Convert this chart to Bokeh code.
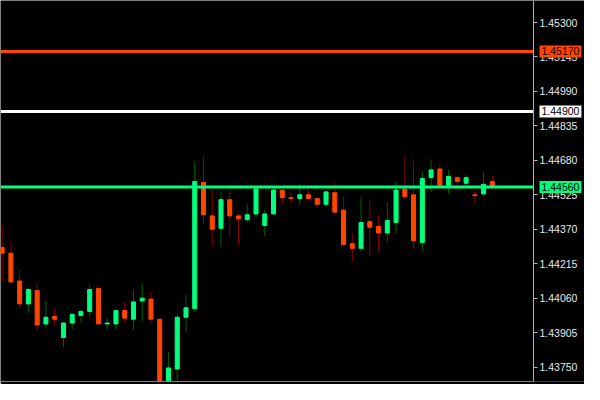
from bokeh.plotting import figure
from bokeh.models import (Range1d, FixedTicker, PrintfTickFormatter, Label,
                          ColumnDataSource, LinearAxis)
from bokeh.embed import file_html
from bokeh.resources import INLINE

# OHLC bars (left to right)
opens = [1.44288, 1.44262, 1.44137, 1.44034, 1.44094, 1.43944, 1.43978, 1.43883, 1.43948, 1.43982,
         1.44000, 1.44103, 1.43944, 1.43944, 1.44004, 1.43965, 1.44047, 1.44056, 1.43965, 1.43655,
         1.43741, 1.43974, 1.44013, 1.44581, 1.44430, 1.44374, 1.44503, 1.44430, 1.44413, 1.44439,
         1.44387, 1.44439, 1.44546, 1.44512, 1.44508, 1.44525, 1.44508, 1.44482, 1.44534, 1.44456,
         1.44305, 1.44284, 1.44404, 1.44383, 1.44353, 1.44400, 1.44551, 1.44525, 1.44310, 1.44602,
         1.44641, 1.44568, 1.44602, 1.44577, 1.44525, 1.44529, 1.44585]
highs = [1.44387, 1.44310, 1.44189, 1.44107, 1.44129, 1.44047, 1.44017, 1.43952, 1.43991, 1.44008,
         1.44120, 1.44112, 1.43970, 1.44008, 1.44043, 1.44094, 1.44125, 1.44086, 1.43965, 1.43819,
         1.43991, 1.44077, 1.44676, 1.44697, 1.44546, 1.44542, 1.44546, 1.44439, 1.44482, 1.44555,
         1.44460, 1.44559, 1.44551, 1.44546, 1.44572, 1.44568, 1.44512, 1.44546, 1.44581, 1.44516,
         1.44353, 1.44516, 1.44503, 1.44435, 1.44491, 1.44585, 1.44697, 1.44676, 1.44628, 1.44684,
         1.44658, 1.44637, 1.44611, 1.44615, 1.44546, 1.44628, 1.44611]
lows = [1.44137, 1.44125, 1.44013, 1.43995, 1.43914, 1.43922, 1.43935, 1.43840, 1.43922, 1.43948,
        1.43978, 1.43944, 1.43918, 1.43918, 1.43948, 1.43918, 1.43957, 1.43944, 1.43630, 1.43630,
        1.43685, 1.43909, 1.44000, 1.44396, 1.44292, 1.44292, 1.44336, 1.44301, 1.44400, 1.44422,
        1.44340, 1.44435, 1.44482, 1.44482, 1.44482, 1.44508, 1.44465, 1.44473, 1.44443, 1.44301,
        1.44224, 1.44271, 1.44249, 1.44267, 1.44310, 1.44353, 1.44508, 1.44284, 1.44271, 1.44538,
        1.44564, 1.44529, 1.44568, 1.44564, 1.44486, 1.44525, 1.44551]
closes = [1.44262, 1.44133, 1.44034, 1.44099, 1.43939, 1.43974, 1.43965, 1.43948, 1.43987, 1.44000,
          1.44099, 1.43944, 1.43948, 1.44004, 1.43970, 1.44043, 1.44060, 1.43965, 1.43655, 1.43746,
          1.43974, 1.44017, 1.44585, 1.44435, 1.44370, 1.44503, 1.44430, 1.44417, 1.44435, 1.44551,
          1.44439, 1.44546, 1.44512, 1.44508, 1.44525, 1.44508, 1.44482, 1.44538, 1.44447, 1.44301,
          1.44284, 1.44400, 1.44379, 1.44353, 1.44409, 1.44546, 1.44516, 1.44318, 1.44598, 1.44637,
          1.44568, 1.44607, 1.44585, 1.44602, 1.44521, 1.44572, 1.44564]

# horizontal price levels
levels = [1.45170, 1.44900, 1.44560]
level_colors = ["#ff4500", "#ffffff", "#00ff7f"]

# price scale ticks
tick_values = [1.45300, 1.45145, 1.44990, 1.44835, 1.44680, 1.44525,
               1.44370, 1.44215, 1.44060, 1.43905, 1.43750]

BULL_BODY, BULL_WICK = "#00ff7f", "#006400"
BEAR_BODY, BEAR_WICK = "#ff4500", "#8b0000"
FONT = "Liberation Sans"
FONT_SIZE = "10.5px"

CANVAS_W = 584
X_START = -0.19          # left edge of chart (bar index units)
AXIS_X = 60.7            # where the price scale sits
PX_PER_UNIT = 533 / (AXIS_X - X_START)
X_END = X_START + CANVAS_W / PX_PER_UNIT
TAG_X = X_START + 539 / PX_PER_UNIT


def make_source(is_up):
    d = dict(x=[], o=[], h=[], l=[], c=[], top=[], bottom=[])
    for i, (o, h, l, c) in enumerate(zip(opens, highs, lows, closes)):
        if (c >= o) == is_up:
            d["x"].append(i); d["o"].append(o); d["h"].append(h)
            d["l"].append(l); d["c"].append(c)
            d["top"].append(max(o, c)); d["bottom"].append(min(o, c))
    return ColumnDataSource(d)


bull = make_source(True)
bear = make_source(False)

p = figure(frame_width=CANVAS_W, frame_height=381,
           x_range=Range1d(X_START, X_END), y_range=Range1d(1.43685, 1.45399),
           output_backend="svg", toolbar_location=None,
           x_axis_location=None, y_axis_location=None,
           background_fill_color="black", border_fill_color="black",
           outline_line_color=None,
           min_border_left=0, min_border_top=0, min_border_right=0, min_border_bottom=3)

p.xgrid.visible = False
p.ygrid.visible = False

# bottom border line (no ticks / labels)
xa = LinearAxis(ticker=FixedTicker(ticks=[]), bounds=(X_START, AXIS_X),
                major_tick_line_color=None, minor_tick_line_color=None,
                major_tick_out=0, major_tick_in=0, major_label_standoff=0,
                axis_line_color="#808080")
p.add_layout(xa, "below")

# price scale on the right, pinned at AXIS_X so the tags can sit beside it
ya = LinearAxis(ticker=FixedTicker(ticks=tick_values),
                formatter=PrintfTickFormatter(format="%.5f"),
                fixed_location=AXIS_X,
                axis_line_color="#b0b0b0", major_tick_line_color="#b0b0b0",
                major_tick_out=4, major_tick_in=0, minor_tick_line_color=None,
                major_label_standoff=2, major_label_text_color="#e8e8e8",
                major_label_text_font=FONT, major_label_text_font_size=FONT_SIZE)
p.add_layout(ya, "right")

# wicks
p.segment(x0="x", y0="l", x1="x", y1="h", source=bull, line_color=BULL_WICK, line_width=1)
p.segment(x0="x", y0="l", x1="x", y1="h", source=bear, line_color=BEAR_WICK, line_width=1)
# bodies
p.vbar(x="x", top="top", bottom="bottom", width=0.46, source=bull,
       fill_color=BULL_BODY, line_color=BULL_BODY, line_width=1)
p.vbar(x="x", top="top", bottom="bottom", width=0.46, source=bear,
       fill_color=BEAR_BODY, line_color=BEAR_BODY, line_width=1)

# price levels (up to the price scale) and their tags
lv_src = ColumnDataSource(dict(y=levels, color=level_colors,
                               x0=[X_START] * len(levels), x1=[AXIS_X] * len(levels)))
p.segment(x0="x0", y0="y", x1="x1", y1="y", source=lv_src,
          line_color="color", line_width=3, line_cap="butt")
for lv, col in zip(levels, level_colors):
    p.add_layout(Label(x=TAG_X, y=lv, x_units="data", y_units="data",
                       text=f"{lv:.5f}", text_font=FONT, text_font_size=FONT_SIZE,
                       text_color="black", text_baseline="middle", text_align="left",
                       background_fill_color=col, padding=2))

open("out.html", "w").write(file_html(p, INLINE))
